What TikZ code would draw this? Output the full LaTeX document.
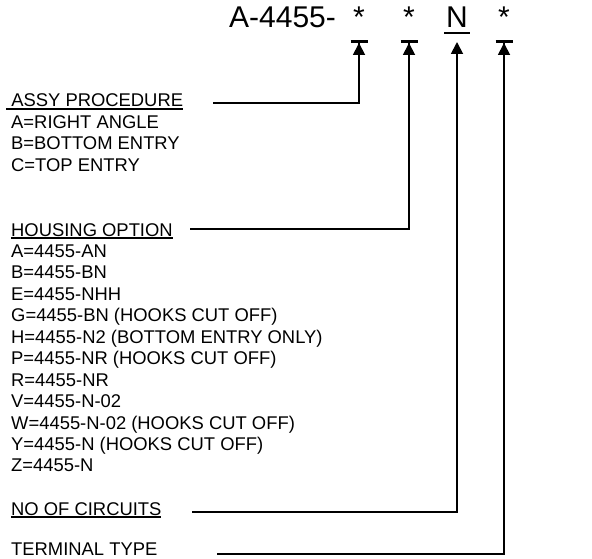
\documentclass[tikz,border=0pt]{standalone}
\usepackage{fontspec}
\setmainfont{Liberation Sans}
\newcommand\undl[1]{\vtop{\hbox{#1}\kern1pt\hrule height 1.6pt}}
\usetikzlibrary{arrows.meta}

\begin{document}
\begin{tikzpicture}[
    x=1pt, y=1pt,
    txt/.style={anchor=base west, inner sep=0pt, font=\fontsize{18.4}{21.45}\selectfont},
    code/.style={anchor=base, inner sep=0pt, font=\fontsize{30}{35}\selectfont},
    lead/.style={line width=1.8pt},
    arr/.style={lead, -{Triangle[width=12pt,length=12pt]}},
    barr/.style={lead, -{Triangle[width=12pt,length=12pt]Bar[width=17pt,line width=3pt]}}
  ]
    \useasboundingbox (0,0) rectangle (592,558);
    % part number
    \node[code, anchor=base west] (pn) at (229,530) {A-4455-};
    \node[code] (f1) at (359,530) {*};
    \node[code] (f2) at (409,530) {*};
    \node[code] (fN) at (457,530) {N};
    \node[code] (f4) at (504,530) {*};
    \draw[line width=2.5pt] ([xshift=-1.5pt,yshift=-5pt]fN.base west) -- ([xshift=1.5pt,yshift=-5pt]fN.base east);
    % assy procedure
    \node[txt] (assy) at (6,451) {\undl{\ ASSY PROCEDURE}};
    \foreach \t [count=\i] in {A=RIGHT ANGLE, B=BOTTOM ENTRY, C=TOP ENTRY}
      \node[txt] (assy\i) at (11,451-21.45*\i) {\t};
    % housing option
    \node[txt] (hsg) at (11,322) {\undl{HOUSING OPTION}};
    \foreach \t [count=\i] in {A=4455-AN, B=4455-BN, E=4455-NHH, G=4455-BN (HOOKS CUT OFF),
        H=4455-N2 (BOTTOM ENTRY ONLY), P=4455-NR (HOOKS CUT OFF), R=4455-NR, V=4455-N-02,
        W=4455-N-02 (HOOKS CUT OFF), Y=4455-N (HOOKS CUT OFF), Z=4455-N}
      \node[txt] (hsg\i) at (11,322-21.45*\i) {\t};
    \node[txt] (ckt) at (11,43) {\undl{NO OF CIRCUITS}};
    \node[txt] (term) at (11,2.5) {TERMINAL TYPE};
    % leaders
    \coordinate (sA) at (213,455);
    \coordinate (sH) at (190,329);
    \coordinate (sC) at (192,46);
    \coordinate (sT) at (217,4);
    \draw[barr] (sA) -| ([yshift=-12pt]f1.base);
    \draw[barr] (sH) -| ([yshift=-12pt]f2.base);
    \draw[arr] (sC) -| ([yshift=-14pt]fN.base);
    \draw[barr] (sT) -| ([yshift=-12pt]f4.base);
  \end{tikzpicture}
\end{document}
